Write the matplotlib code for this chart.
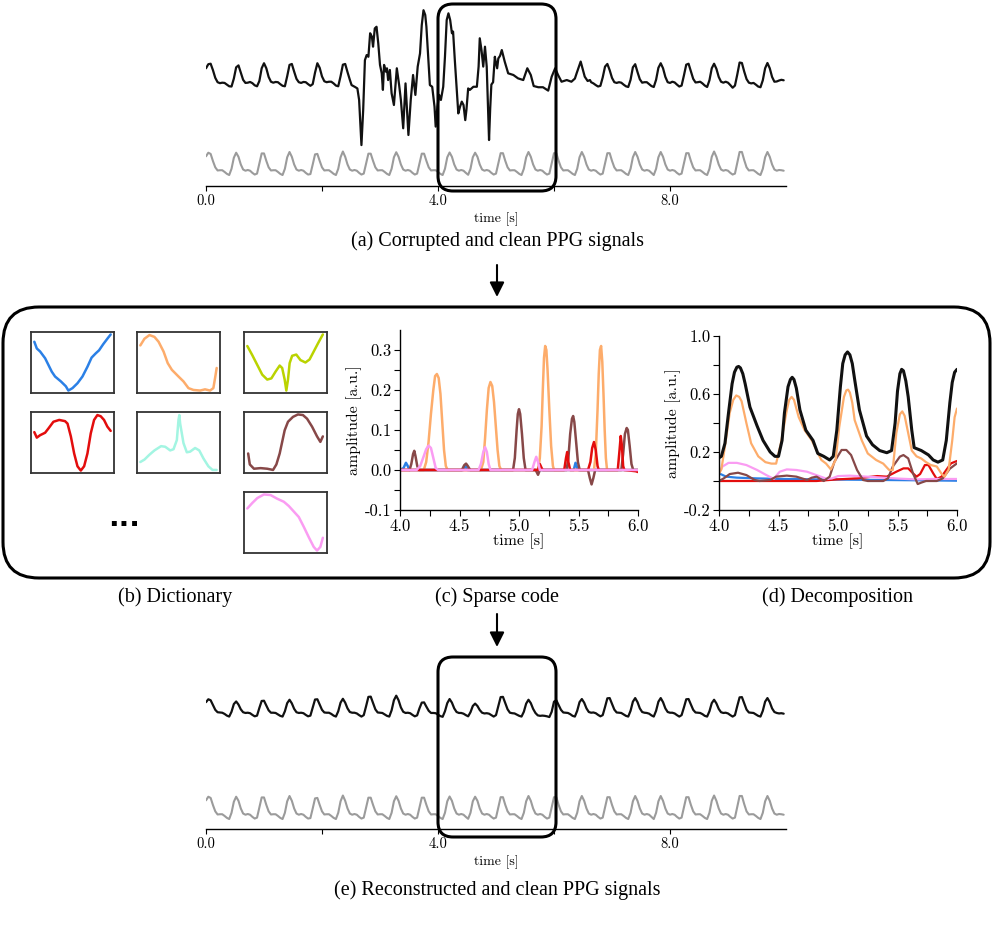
import numpy as np
import matplotlib
matplotlib.use('Agg')
import matplotlib.pyplot as plt
from matplotlib.patches import FancyBboxPatch, FancyArrowPatch

plt.rcParams['font.family'] = 'cmr10'
plt.rcParams['axes.formatter.use_mathtext'] = True
plt.rcParams['axes.unicode_minus'] = False
plt.rcParams['lines.solid_joinstyle'] = 'round'
plt.rcParams['lines.solid_capstyle'] = 'round'

W, H = 997, 932
DT = 0.04  # sampling step of the long signals [s]

# ---- (a)/(e) long signals, sampled every 0.04 s from 0 to 9.96 s ----
clean_ppg = [
    0.82, 0.97, 0.92, 0.62, 0.36, 0.23, 0.24, 0.24, 0.17, 0.09,
    0.04, 0.30, 0.76, 0.97, 0.80, 0.48, 0.27, 0.22, 0.25, 0.22,
    0.13, 0.06, 0.10, 0.52, 0.94, 0.94, 0.63, 0.36, 0.23, 0.24,
    0.24, 0.17, 0.09, 0.04, 0.30, 0.78, 1.00, 0.80, 0.48, 0.27,
    0.22, 0.25, 0.22, 0.13, 0.06, 0.08, 0.48, 0.90, 0.92, 0.63,
    0.36, 0.23, 0.24, 0.24, 0.17, 0.09, 0.04, 0.30, 0.78, 1.02,
    0.80, 0.48, 0.27, 0.22, 0.25, 0.22, 0.13, 0.06, 0.10, 0.52,
    0.93, 0.93, 0.63, 0.36, 0.23, 0.24, 0.24, 0.17, 0.09, 0.04,
    0.30, 0.78, 0.99, 0.80, 0.48, 0.27, 0.22, 0.25, 0.22, 0.13,
    0.06, 0.10, 0.52, 0.93, 0.93, 0.63, 0.36, 0.23, 0.24, 0.24,
    0.17, 0.09, 0.04, 0.30, 0.78, 0.98, 0.80, 0.48, 0.27, 0.22,
    0.25, 0.22, 0.13, 0.05, 0.30, 0.78, 0.97, 0.80, 0.48, 0.27,
    0.22, 0.25, 0.22, 0.13, 0.06, 0.10, 0.52, 0.95, 0.95, 0.63,
    0.36, 0.23, 0.24, 0.24, 0.17, 0.09, 0.04, 0.30, 0.78, 1.00,
    0.80, 0.48, 0.27, 0.22, 0.25, 0.22, 0.13, 0.06, 0.10, 0.52,
    0.95, 0.95, 0.63, 0.36, 0.23, 0.24, 0.24, 0.17, 0.09, 0.04,
    0.30, 0.78, 1.00, 0.80, 0.48, 0.27, 0.22, 0.25, 0.22, 0.13,
    0.06, 0.10, 0.52, 0.95, 0.95, 0.63, 0.36, 0.23, 0.24, 0.24,
    0.17, 0.09, 0.04, 0.30, 0.78, 1.00, 0.80, 0.48, 0.27, 0.22,
    0.25, 0.22, 0.13, 0.04, 0.30, 0.78, 1.00, 0.80, 0.48, 0.27,
    0.22, 0.25, 0.22, 0.13, 0.06, 0.10, 0.52, 0.95, 0.95, 0.63,
    0.36, 0.23, 0.24, 0.24, 0.17, 0.09, 0.04, 0.30, 0.80, 1.02,
    0.80, 0.48, 0.27, 0.22, 0.25, 0.22, 0.13, 0.06, 0.10, 0.54,
    1.00, 1.00, 0.66, 0.36, 0.23, 0.24, 0.24, 0.17, 0.09, 0.04,
    0.30, 0.78, 1.00, 0.80, 0.48, 0.27, 0.22, 0.25, 0.24, 0.22,
]

# corrupted signal: clean-looking part before the artifact (0 .. 2.44 s)
corrupt_pre = [
    0.78, 0.95, 0.97, 0.70, 0.38, 0.20, 0.16, 0.18, 0.17, 0.10,
    0.03, 0.02, 0.35, 0.82, 0.90, 0.60, 0.30, 0.17, 0.18, 0.21,
    0.16, 0.07, 0.03, 0.25, 0.78, 0.99, 0.78, 0.42, 0.22, 0.18,
    0.21, 0.20, 0.12, 0.05, 0.03, 0.45, 0.92, 0.96, 0.64, 0.34,
    0.20, 0.17, 0.21, 0.20, 0.12, 0.05, 0.12, 0.60, 0.99, 0.80,
    0.44, 0.24, 0.20, 0.22, 0.22, 0.15, 0.06, 0.03, 0.45, 0.93,
    0.96, 0.62,
]
# motion artifact, traced point by point (time [s], amplitude)
corrupt_artifact = [
    (2.48, 0.30), (2.51, 0.08), (2.57, 0.00), (2.61, -0.06), (2.64, -0.54),
    (2.68, -2.42), (2.71, -0.96), (2.74, 1.12), (2.77, 1.33), (2.80, 1.26),
    (2.83, 2.24), (2.86, 2.10), (2.88, 1.68), (2.91, 2.44), (2.94, 2.51),
    (2.97, 1.82), (3.00, 0.92), (3.03, 0.57), (3.05, -0.12), (3.07, 0.92),
    (3.10, 0.64), (3.12, 0.78), (3.14, 0.29), (3.17, 0.71), (3.20, -0.26),
    (3.24, -0.75), (3.29, 0.78), (3.33, 0.08), (3.36, -0.54), (3.40, -1.72),
    (3.44, 0.15), (3.49, -2.00), (3.53, -0.54), (3.57, 0.50), (3.61, -0.33),
    (3.65, 0.85), (3.69, 1.40), (3.72, 2.58), (3.75, 3.20), (3.78, 3.00),
    (3.80, 2.51), (3.83, 1.26), (3.86, 0.08), (3.90, 0.01), (3.94, -0.82),
    (3.96, -1.65), (3.99, -0.82), (4.02, -0.33), (4.05, -0.54), (4.09, 0.01),
    (4.12, 1.26), (4.15, 2.79), (4.18, 3.07), (4.21, 2.79), (4.24, 2.24),
    (4.26, 2.31), (4.29, 1.12), (4.32, 0.01), (4.35, -1.10), (4.38, -0.82),
    (4.41, -0.61), (4.44, -0.75), (4.47, -1.38), (4.49, -0.96), (4.52, -0.06),
    (4.55, -0.12), (4.61, 0.01), (4.67, 0.01), (4.70, 0.85), (4.72, 2.03),
    (4.75, 1.54), (4.78, 0.85), (4.81, 1.68), (4.84, 0.85), (4.88, -2.21),
    (4.90, -0.90), (4.92, 0.10), (4.95, 0.20), (4.98, 1.26), (4.99, 1.12),
    (5.02, 0.78), (5.04, 1.19), (5.07, 1.30), (5.10, 1.54), (5.15, 1.06),
    (5.21, 0.57), (5.30, 0.50), (5.38, 0.36), (5.47, 0.29), (5.54, 0.78),
    (5.60, 0.50), (5.65, 0.04), (5.73, -0.01), (5.81, -0.01), (5.90, -0.15),
    (5.96, 0.43), (6.02, 0.78), (6.07, 0.50), (6.13, 0.22), (6.22, 0.29),
    (6.30, 0.22), (6.36, 0.35), (6.39, 0.57), (6.46, 1.06), (6.53, 0.43),
    (6.58, 0.25), (6.62, 0.29),
]
# clean-looking part after the artifact (6.64 .. 9.96 s)
corrupt_post = [
    0.20, 0.15, 0.08, 0.02,
    0.05, 0.40, 0.85, 0.96, 0.70, 0.38, 0.20, 0.17, 0.20, 0.18,
    0.10, 0.03, 0.00, 0.30, 0.82, 0.95, 0.62, 0.32, 0.18, 0.20,
    0.20, 0.12, 0.04, 0.00, 0.30, 0.80, 0.99, 0.78, 0.42, 0.20,
    0.17, 0.22, 0.19, 0.10, 0.02, 0.06, 0.48, 0.93, 0.97, 0.65,
    0.34, 0.19, 0.20, 0.22, 0.15, 0.06, 0.00, 0.28, 0.78, 0.97,
    0.76, 0.42, 0.22, 0.18, 0.22, 0.18, 0.08, -0.03, 0.06, 0.52,
    1.02, 1.00, 0.64, 0.33, 0.18, 0.15, 0.17, 0.10, 0.02, -0.01,
    0.28, 0.78, 1.00, 0.78, 0.42, 0.22, 0.23, 0.27, 0.30, 0.28,
]

reconstructed_ppg = [
    0.62, 0.74, 0.70, 0.50, 0.30, 0.20, 0.19, 0.18, 0.13, 0.06,
    0.02, 0.22, 0.54, 0.65, 0.52, 0.32, 0.20, 0.17, 0.18, 0.16,
    0.09, 0.03, 0.06, 0.38, 0.67, 0.68, 0.48, 0.28, 0.18, 0.18,
    0.17, 0.11, 0.05, 0.02, 0.24, 0.58, 0.72, 0.57, 0.34, 0.20,
    0.17, 0.18, 0.16, 0.09, 0.03, 0.06, 0.40, 0.73, 0.74, 0.52,
    0.30, 0.19, 0.18, 0.18, 0.13, 0.06, 0.02, 0.24, 0.60, 0.76,
    0.60, 0.36, 0.21, 0.18, 0.18, 0.15, 0.08, 0.02, 0.08, 0.45,
    0.84, 0.85, 0.58, 0.32, 0.19, 0.18, 0.17, 0.11, 0.05, 0.02,
    0.28, 0.70, 0.89, 0.70, 0.40, 0.22, 0.17, 0.18, 0.16, 0.09,
    0.03, 0.07, 0.36, 0.60, 0.61, 0.43, 0.26, 0.17, 0.17, 0.16,
    0.10, 0.04, 0.01, 0.24, 0.58, 0.75, 0.60, 0.36, 0.21, 0.17,
    0.17, 0.14, 0.08, 0.03, 0.20, 0.46, 0.56, 0.46, 0.29, 0.18,
    0.15, 0.16, 0.14, 0.08, 0.02, 0.08, 0.45, 0.83, 0.84, 0.58,
    0.32, 0.18, 0.16, 0.15, 0.10, 0.05, 0.02, 0.22, 0.56, 0.72,
    0.58, 0.34, 0.17, 0.07, 0.05, 0.06, 0.05, 0.03, 0.00, 0.22,
    0.64, 0.70, 0.50, 0.30, 0.19, 0.18, 0.17, 0.12, 0.05, 0.02,
    0.26, 0.62, 0.75, 0.60, 0.36, 0.21, 0.18, 0.19, 0.16, 0.09,
    0.03, 0.08, 0.42, 0.78, 0.79, 0.55, 0.31, 0.19, 0.18, 0.17,
    0.11, 0.05, 0.02, 0.26, 0.64, 0.79, 0.62, 0.36, 0.21, 0.18,
    0.17, 0.14, 0.07, 0.02, 0.26, 0.64, 0.79, 0.62, 0.36, 0.21,
    0.18, 0.18, 0.15, 0.08, 0.02, 0.08, 0.40, 0.74, 0.75, 0.52,
    0.30, 0.19, 0.18, 0.17, 0.12, 0.05, 0.02, 0.24, 0.58, 0.72,
    0.57, 0.34, 0.20, 0.17, 0.18, 0.15, 0.08, 0.02, 0.08, 0.46,
    0.82, 0.83, 0.57, 0.31, 0.19, 0.18, 0.17, 0.11, 0.05, 0.02,
    0.26, 0.64, 0.79, 0.62, 0.36, 0.21, 0.17, 0.15, 0.16, 0.14,
]

# ---- (b) dictionary atoms, (x, y) in the unit box ----
atom_blue = [(0.04, 0.84), (0.07, 0.73), (0.11, 0.68), (0.17, 0.57), (0.21, 0.46),
             (0.25, 0.35), (0.29, 0.27), (0.36, 0.19), (0.42, 0.11), (0.45, 0.04),
             (0.50, 0.08), (0.56, 0.16), (0.62, 0.27), (0.68, 0.43), (0.73, 0.58),
             (0.78, 0.65), (0.82, 0.70), (0.87, 0.80), (0.92, 0.89), (0.96, 0.96)]
atom_orange = [(0.04, 0.78), (0.09, 0.89), (0.15, 0.95), (0.21, 0.92), (0.26, 0.84),
               (0.32, 0.68), (0.37, 0.49), (0.42, 0.38), (0.50, 0.27), (0.56, 0.19),
               (0.62, 0.08), (0.68, 0.05), (0.76, 0.04), (0.82, 0.06), (0.88, 0.04),
               (0.92, 0.08), (0.94, 0.24), (0.96, 0.41)]
atom_yellow = [(0.04, 0.77), (0.10, 0.62), (0.16, 0.46), (0.22, 0.30), (0.28, 0.22),
               (0.33, 0.24), (0.38, 0.35), (0.43, 0.45), (0.46, 0.41), (0.49, 0.22),
               (0.51, 0.04), (0.53, 0.22), (0.55, 0.49), (0.58, 0.61), (0.63, 0.63),
               (0.68, 0.54), (0.74, 0.50), (0.79, 0.55), (0.84, 0.68), (0.89, 0.81),
               (0.95, 0.96)]
atom_red = [(0.04, 0.67), (0.07, 0.58), (0.11, 0.62), (0.17, 0.66), (0.21, 0.73),
            (0.27, 0.84), (0.34, 0.87), (0.41, 0.85), (0.44, 0.81), (0.48, 0.60),
            (0.52, 0.32), (0.56, 0.11), (0.60, 0.04), (0.64, 0.11), (0.68, 0.32),
            (0.72, 0.65), (0.76, 0.87), (0.80, 0.95), (0.84, 0.93), (0.88, 0.87),
            (0.92, 0.76), (0.96, 0.69)]
atom_cyan = [(0.04, 0.18), (0.09, 0.22), (0.15, 0.30), (0.21, 0.37), (0.29, 0.44),
             (0.34, 0.43), (0.40, 0.37), (0.44, 0.39), (0.48, 0.54), (0.50, 0.87),
             (0.51, 0.95), (0.52, 0.81), (0.56, 0.49), (0.60, 0.34), (0.64, 0.35),
             (0.70, 0.41), (0.75, 0.37), (0.80, 0.24), (0.86, 0.11), (0.91, 0.05),
             (0.96, 0.05)]
atom_brown = [(0.05, 0.32), (0.07, 0.14), (0.12, 0.07), (0.20, 0.08), (0.28, 0.07),
              (0.35, 0.05), (0.39, 0.14), (0.43, 0.32), (0.46, 0.51), (0.49, 0.70),
              (0.53, 0.84), (0.59, 0.92), (0.65, 0.96), (0.71, 0.95), (0.76, 0.89),
              (0.82, 0.76), (0.88, 0.60), (0.92, 0.51), (0.95, 0.60)]
atom_pink = [(0.04, 0.73), (0.10, 0.82), (0.16, 0.90), (0.24, 0.96), (0.32, 0.95),
             (0.40, 0.89), (0.48, 0.84), (0.54, 0.77), (0.60, 0.68), (0.66, 0.59),
             (0.72, 0.43), (0.78, 0.26), (0.84, 0.10), (0.88, 0.04), (0.92, 0.10),
             (0.95, 0.25)]

# ---- (c) sparse code, (time [s], amplitude) ----
code_blue = [(4.0, 0.0), (4.03, 0.005), (4.05, 0.018), (4.065, 0.01), (4.08, 0.0),
             (4.53, 0.0), (4.55, 0.01), (4.57, 0.0), (5.46, 0.0), (5.475, 0.018),
             (5.49, 0.005), (5.50, 0.0), (6.0, 0.0)]
code_orange = [(4.0, 0.0), (4.20, 0.0), (4.22, 0.02), (4.24, 0.07), (4.26, 0.14),
               (4.28, 0.20), (4.295, 0.235), (4.31, 0.24), (4.325, 0.23), (4.34, 0.19),
               (4.355, 0.12), (4.37, 0.05), (4.385, 0.01), (4.40, 0.0),
               (4.68, 0.0), (4.70, 0.02), (4.715, 0.08), (4.73, 0.15), (4.745, 0.205),
               (4.76, 0.22), (4.775, 0.21), (4.79, 0.17), (4.805, 0.11), (4.82, 0.05),
               (4.835, 0.01), (4.85, 0.0),
               (5.16, 0.0), (5.175, 0.03), (5.19, 0.11), (5.20, 0.20), (5.21, 0.28),
               (5.22, 0.31), (5.23, 0.30), (5.24, 0.25), (5.255, 0.15), (5.27, 0.06),
               (5.285, 0.01), (5.295, 0.0),
               (5.63, 0.0), (5.645, 0.04), (5.66, 0.15), (5.67, 0.24), (5.68, 0.30),
               (5.69, 0.31), (5.70, 0.27), (5.71, 0.19), (5.72, 0.10), (5.73, 0.03),
               (5.74, 0.0), (6.0, 0.0)]
code_brown = [(4.0, 0.0), (4.08, 0.0), (4.095, 0.015), (4.11, 0.04), (4.12, 0.048),
              (4.13, 0.035), (4.145, 0.01), (4.16, 0.0), (4.52, 0.0), (4.54, 0.012),
              (4.555, 0.016), (4.57, 0.01), (4.59, 0.0), (4.95, 0.0), (4.965, 0.03),
              (4.98, 0.10), (4.99, 0.14), (5.0, 0.152), (5.01, 0.14), (5.025, 0.09),
              (5.04, 0.03), (5.055, 0.0), (5.14, 0.0), (5.16, -0.012), (5.175, 0.0),
              (5.40, 0.0), (5.415, 0.03), (5.43, 0.09), (5.445, 0.128), (5.455, 0.135),
              (5.465, 0.12), (5.48, 0.07), (5.495, 0.02), (5.51, 0.0), (5.58, 0.0),
              (5.595, -0.02), (5.61, -0.036), (5.625, -0.02), (5.64, 0.0), (5.86, 0.0),
              (5.875, 0.04), (5.89, 0.09), (5.905, 0.105), (5.915, 0.10), (5.93, 0.06),
              (5.945, 0.015), (5.96, 0.0), (6.0, 0.0)]
code_red = [(4.0, 0.0), (5.16, 0.0), (5.175, 0.015), (5.19, 0.005), (5.20, 0.0),
            (5.38, 0.0), (5.395, 0.03), (5.405, 0.045), (5.415, 0.02), (5.43, 0.0),
            (5.58, 0.0), (5.60, 0.02), (5.615, 0.055), (5.63, 0.07), (5.645, 0.05),
            (5.66, 0.01), (5.67, 0.0), (5.83, 0.0), (5.845, 0.05), (5.855, 0.085),
            (5.865, 0.06), (5.875, 0.01), (5.885, 0.0), (5.98, -0.003), (6.0, -0.005)]
code_pink = [(4.0, 0.0), (4.14, 0.0), (4.17, 0.01), (4.20, 0.035), (4.22, 0.052),
             (4.24, 0.061), (4.26, 0.055), (4.28, 0.03), (4.30, 0.005), (4.32, 0.0),
             (4.66, 0.0), (4.68, 0.015), (4.70, 0.045), (4.715, 0.057), (4.73, 0.045),
             (4.745, 0.015), (4.76, 0.0), (5.11, 0.0), (5.13, 0.02), (5.145, 0.033),
             (5.16, 0.02), (5.175, 0.0), (6.0, 0.0)]

# ---- (d) decomposition, (time [s], amplitude) ----
dec_sum = [(4.0, 0.16), (4.02, 0.17), (4.05, 0.26), (4.08, 0.47), (4.11, 0.67),
           (4.13, 0.75), (4.15, 0.785), (4.165, 0.79), (4.18, 0.78), (4.20, 0.74),
           (4.22, 0.67), (4.26, 0.51), (4.32, 0.38), (4.37, 0.28), (4.43, 0.20),
           (4.47, 0.17), (4.50, 0.17), (4.53, 0.28), (4.55, 0.47), (4.58, 0.65),
           (4.60, 0.70), (4.615, 0.715), (4.63, 0.70), (4.65, 0.64), (4.68, 0.49),
           (4.73, 0.35), (4.79, 0.28), (4.83, 0.19), (4.88, 0.17), (4.93, 0.145),
           (4.96, 0.17), (4.99, 0.35), (5.02, 0.65), (5.04, 0.81), (5.06, 0.87),
           (5.08, 0.89), (5.10, 0.87), (5.12, 0.81), (5.14, 0.70), (5.18, 0.49),
           (5.24, 0.31), (5.29, 0.25), (5.35, 0.21), (5.41, 0.195), (5.45, 0.21),
           (5.48, 0.40), (5.50, 0.62), (5.52, 0.74), (5.535, 0.77), (5.55, 0.76),
           (5.57, 0.69), (5.59, 0.58), (5.62, 0.35), (5.64, 0.23), (5.70, 0.21),
           (5.76, 0.18), (5.80, 0.145), (5.84, 0.13), (5.88, 0.145), (5.91, 0.28),
           (5.94, 0.54), (5.96, 0.68), (5.98, 0.75), (6.0, 0.77)]
dec_orange = [(4.0, 0.05), (4.02, 0.08), (4.05, 0.24), (4.09, 0.47), (4.12, 0.56),
              (4.145, 0.59), (4.17, 0.58), (4.19, 0.55), (4.23, 0.40), (4.27, 0.26),
              (4.33, 0.17), (4.39, 0.13), (4.44, 0.12), (4.48, 0.12), (4.52, 0.26),
              (4.57, 0.49), (4.59, 0.56), (4.61, 0.58), (4.63, 0.56), (4.67, 0.44),
              (4.72, 0.35), (4.78, 0.28), (4.82, 0.21), (4.86, 0.145), (4.90, 0.12),
              (4.94, 0.08), (4.98, 0.145), (5.01, 0.37), (5.05, 0.58), (5.07, 0.625),
              (5.085, 0.63), (5.10, 0.61), (5.12, 0.54), (5.14, 0.42), (5.20, 0.28),
              (5.25, 0.19), (5.32, 0.145), (5.38, 0.12), (5.43, 0.076), (5.46, 0.076),
              (5.49, 0.33), (5.52, 0.46), (5.54, 0.48), (5.56, 0.45), (5.58, 0.37),
              (5.62, 0.21), (5.66, 0.17), (5.70, 0.155), (5.74, 0.13), (5.78, 0.11),
              (5.83, 0.10), (5.87, 0.05), (5.895, 0.03), (5.93, 0.08), (5.96, 0.28),
              (5.98, 0.44), (6.0, 0.50)]
dec_pink = [(4.0, 0.06), (4.03, 0.10), (4.08, 0.125), (4.15, 0.125), (4.23, 0.11),
            (4.32, 0.076), (4.40, 0.04), (4.46, 0.015), (4.51, 0.064), (4.57, 0.08),
            (4.65, 0.076), (4.74, 0.064), (4.82, 0.04), (4.91, 0.014), (4.95, 0.018),
            (5.0, 0.034), (5.10, 0.037), (5.24, 0.03), (5.38, 0.023), (5.52, 0.016),
            (5.66, 0.011), (5.80, 0.014), (6.0, 0.014)]
dec_brown = [(4.0, 0.0), (4.04, 0.018), (4.09, 0.048), (4.16, 0.057), (4.23, 0.041),
             (4.30, 0.007), (4.34, 0.0), (4.43, 0.007), (4.48, 0.03), (4.57, 0.037),
             (4.65, 0.03), (4.74, 0.007), (4.78, 0.023), (4.82, 0.03), (4.88, 0.0),
             (4.93, 0.03), (4.97, 0.133), (5.03, 0.214), (5.07, 0.214), (5.11, 0.179),
             (5.16, 0.076), (5.21, 0.007), (5.25, 0.0), (5.38, 0.0), (5.42, 0.018),
             (5.46, 0.099), (5.52, 0.168), (5.55, 0.179), (5.59, 0.156), (5.63, 0.053),
             (5.67, -0.021), (5.70, -0.011), (5.74, 0.0), (5.83, 0.0), (5.88, 0.018),
             (5.94, 0.085), (6.0, 0.122)]
dec_red = [(4.0, 0.0), (4.82, 0.0), (4.99, 0.011), (5.16, 0.018), (5.33, 0.034),
           (5.41, 0.03), (5.49, 0.064), (5.55, 0.087), (5.59, 0.087), (5.63, 0.053),
           (5.66, 0.03), (5.69, 0.048), (5.73, 0.11), (5.76, 0.11), (5.80, 0.053),
           (5.83, 0.014), (5.87, 0.03), (5.91, 0.076), (5.95, 0.122), (6.0, 0.138)]
dec_blue = [(4.0, 0.053), (4.06, 0.03), (4.15, 0.023), (4.32, 0.018), (4.54, 0.014),
            (4.82, 0.011), (5.10, 0.009), (5.38, 0.007), (5.66, 0.005), (6.0, 0.002)]

C_BLUE = '#2b80e6'
C_ORANGE = '#fdac6b'
C_YELLOW = '#bad300'
C_RED = '#e30d0d'
C_CYAN = '#a3f5e2'
C_BROWN = '#874848'
C_PINK = '#fa9cf2'

CAPTION = dict(family='Liberation Serif', fontsize=14.5, ha='center', va='center')


def px_axes(fig, x0, y0, x1, y1):
    """Axes given by its pixel box (top-left origin)."""
    return fig.add_axes([x0 / W, 1 - y1 / H, (x1 - x0) / W, (y1 - y0) / H])


def px_text(fig, x, y, s, **kw):
    fig.text(x / W, 1 - y / H, s, **kw)


def rounded_box(fig, x0, y0, x1, y1, r, lw=2.0):
    box = FancyBboxPatch((x0 / 100, (H - y1) / 100), (x1 - x0) / 100, (y1 - y0) / 100,
                         boxstyle=f"round,pad=0,rounding_size={r / 100}",
                         transform=fig.dpi_scale_trans, fill=False,
                         lw=lw, ec='black', zorder=10)
    fig.add_artist(box)


def down_arrow(fig, x, y0, y1):
    arr = FancyArrowPatch((x / 100, (H - y0) / 100), (x / 100, (H - y1) / 100),
                          transform=fig.dpi_scale_trans, arrowstyle='-|>',
                          mutation_scale=22, lw=1.5, color='black', shrinkA=0, shrinkB=0)
    fig.add_artist(arr)


def unzip(points):
    return [p[0] for p in points], [p[1] for p in points]


def signal_panel(fig, y_top, y_spine, black_t, black_v, black_off, ybot):
    t_grid = np.arange(len(clean_ppg)) * DT
    ax = px_axes(fig, 206, y_top, 786, y_spine)
    ax.patch.set_alpha(0)
    ax.plot(t_grid, clean_ppg, color='#9b9b9b', lw=1.5)
    ax.plot(black_t, np.asarray(black_v) + black_off, color='#111111', lw=1.6)
    ax.set_xlim(0, 10)
    ax.set_ylim(ybot, ybot + (y_spine - y_top) / 24)
    for s in ['left', 'right', 'top']:
        ax.spines[s].set_visible(False)
    ax.spines['bottom'].set_linewidth(1.0)
    ax.set_yticks([])
    ax.set_xticks([0, 2, 4, 6, 8])
    ax.set_xticklabels(['0.0', '', '4.0', '', '8.0'])
    ax.tick_params(axis='x', direction='out', length=3.5, width=0.8, labelsize=10.5, pad=2.5)
    ax.set_xlabel('time [s]', fontsize=10, labelpad=3)
    return ax


def small_axes_style(ax):
    for s in ['right', 'top']:
        ax.spines[s].set_visible(False)
    for s in ['left', 'bottom']:
        ax.spines[s].set_linewidth(1.0)
    ax.set_xlim(4.0, 6.0)
    xt = [4.0, 4.25, 4.5, 4.75, 5.0, 5.25, 5.5, 5.75, 6.0]
    ax.set_xticks(xt)
    ax.set_xticklabels(['4.0', '', '4.5', '', '5.0', '', '5.5', '', '6.0'])
    ax.tick_params(direction='out', length=4, width=0.8, labelsize=12, pad=2)
    ax.set_xlabel('time [s]', fontsize=11.5, labelpad=0)
    ax.set_ylabel('amplitude [a.u.]', fontsize=11.5, labelpad=2)


fig = plt.figure(figsize=(W / 100, H / 100), dpi=100)

# ---- (a) corrupted and clean ----
t_grid = np.arange(len(clean_ppg)) * DT
art_t, art_v = unzip(corrupt_artifact)
corr_t = list(t_grid[:len(corrupt_pre)]) + art_t + list(t_grid[len(clean_ppg) - len(corrupt_post):])
corr_v = corrupt_pre + art_v + corrupt_post
signal_panel(fig, 4, 186, corr_t, corr_v, 3.708, -0.417)
rounded_box(fig, 438, 4, 556, 191, 15, lw=2.2)
px_text(fig, 497, 241, '(a) Corrupted and clean PPG signals', **CAPTION)
down_arrow(fig, 497, 265, 297)

# ---- (b)-(d) big rounded box ----
rounded_box(fig, 3, 307, 990, 578, 36, lw=2.2)

atoms = [(atom_blue, C_BLUE, 31, 332), (atom_orange, C_ORANGE, 137, 332),
         (atom_yellow, C_YELLOW, 244, 332), (atom_red, C_RED, 31, 412),
         (atom_cyan, C_CYAN, 137, 412), (atom_brown, C_BROWN, 244, 412),
         (atom_pink, C_PINK, 244, 492)]
for pts, col, x0, y0 in atoms:
    ax = px_axes(fig, x0, y0, x0 + 83, y0 + 61)
    xs, ys = unzip(pts)
    ax.plot(xs, ys, color=col, lw=1.8)
    ax.set_xlim(0, 1)
    ax.set_ylim(0, 1)
    ax.set_xticks([])
    ax.set_yticks([])
    for s in ax.spines.values():
        s.set_linewidth(1.3)
        s.set_color('#333333')
px_text(fig, 124, 526, '...', family='DejaVu Sans', fontweight='bold', fontsize=20,
        ha='center', va='baseline')

# (c) sparse code
ax_c = px_axes(fig, 400, 330, 638, 510)
for pts, col in [(code_blue, C_BLUE), (code_orange, C_ORANGE), (code_brown, C_BROWN),
                 (code_red, C_RED), (code_pink, C_PINK)]:
    xs, ys = unzip(pts)
    ax_c.plot(xs, ys, color=col, lw=1.8)
ax_c.set_ylim(-0.1, 0.35)
ax_c.set_yticks([-0.1, -0.05, 0.0, 0.05, 0.1, 0.15, 0.2, 0.25, 0.3])
ax_c.set_yticklabels(['-0.1', '', '0.0', '', '0.1', '', '0.2', '', '0.3'])
small_axes_style(ax_c)

# (d) decomposition
ax_d = px_axes(fig, 719, 336, 957, 510)
for pts, col, lw in [(dec_blue, C_BLUE, 1.6), (dec_red, C_RED, 1.6), (dec_pink, C_PINK, 1.6),
                     (dec_brown, C_BROWN, 1.6), (dec_orange, C_ORANGE, 1.6),
                     (dec_sum, '#111111', 2.2)]:
    xs, ys = unzip(pts)
    ax_d.plot(xs, ys, color=col, lw=lw)
ax_d.set_ylim(-0.2, 1.0)
ax_d.set_yticks([-0.2, 0.0, 0.2, 0.4, 0.6, 0.8, 1.0])
ax_d.set_yticklabels(['-0.2', '', '0.2', '', '0.6', '', '1.0'])
small_axes_style(ax_d)

px_text(fig, 175, 597, '(b) Dictionary', **CAPTION)
px_text(fig, 497, 597, '(c) Sparse code', **CAPTION)
px_text(fig, 837, 597, '(d) Decomposition', **CAPTION)
down_arrow(fig, 497, 614, 647)

# ---- (e) reconstructed and clean ----
signal_panel(fig, 657, 829, t_grid, reconstructed_ppg, 4.29, -0.375)
rounded_box(fig, 438, 657, 556, 837, 15, lw=2.2)
px_text(fig, 497, 890, '(e) Reconstructed and clean PPG signals', **CAPTION)

fig.savefig('out.png', dpi=100)
